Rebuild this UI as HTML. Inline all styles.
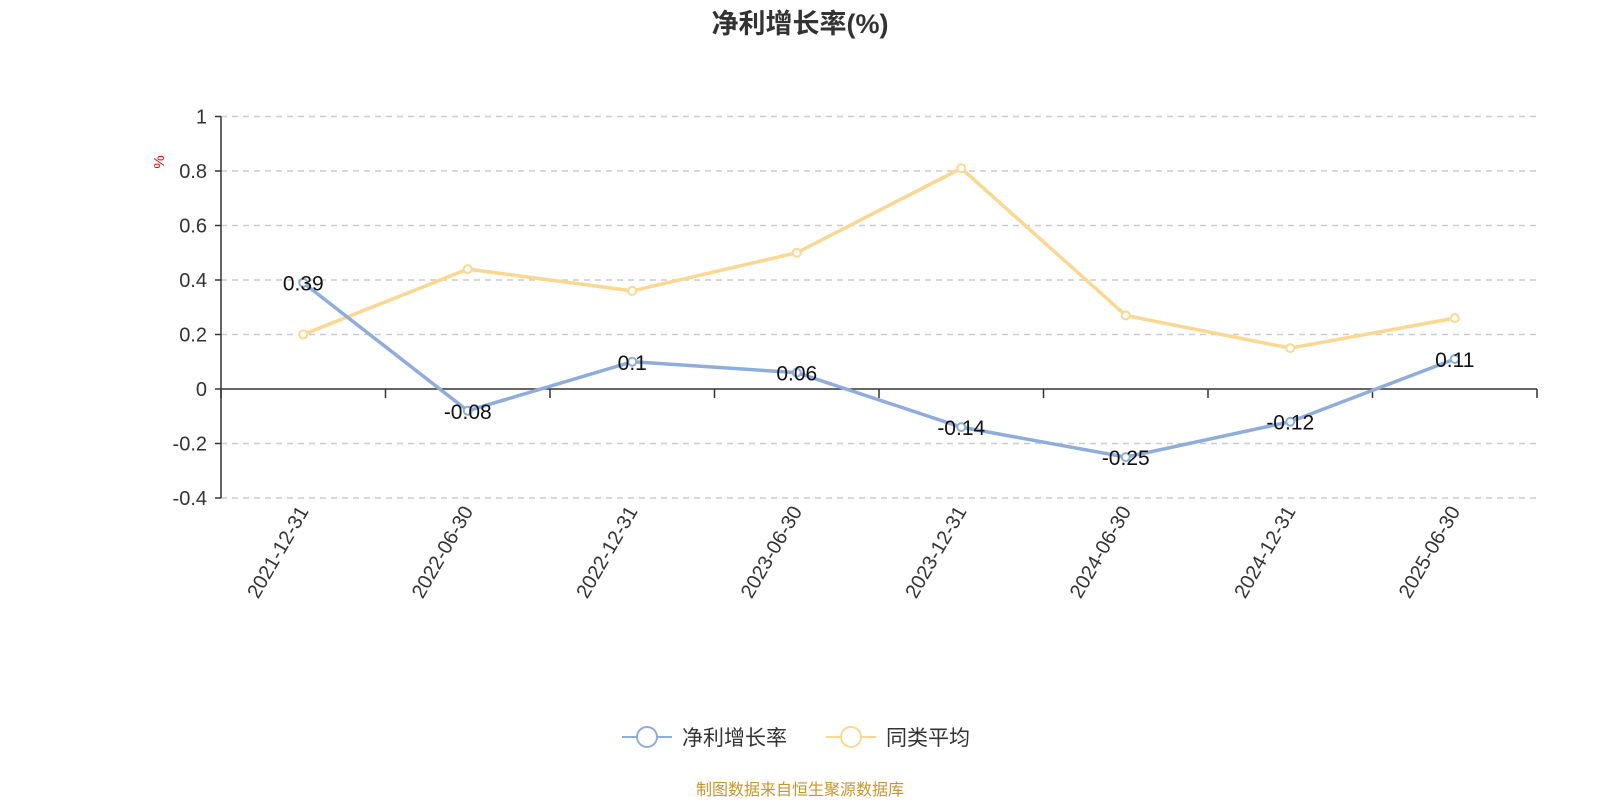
<!DOCTYPE html>
<html><head><meta charset="utf-8"><style>
body{margin:0;background:#fff;width:1600px;height:800px;overflow:hidden;font-family:"Liberation Sans","Noto Sans CJK SC",sans-serif}
</style></head><body>
<svg id="chart" width="1600" height="800" xmlns="http://www.w3.org/2000/svg" font-family="Liberation Sans, Noto Sans CJK SC, sans-serif">
<text x="800" y="33" text-anchor="middle" font-size="27" font-weight="bold" fill="#333">净利增长率(%)</text>
<text transform="translate(164,162) rotate(-90)" text-anchor="middle" font-size="15" fill="#e00">%</text>
<g id="grid"></g><g id="axes"></g><g id="series"></g>
<g>
<g><line x1="622" y1="737" x2="672" y2="737" stroke="#8eadda" stroke-width="2"/><circle cx="647" cy="737" r="10" fill="#fff" stroke="#8eadda" stroke-width="2"/><text x="682" y="745" font-size="21" fill="#333">净利增长率</text></g>
<g><line x1="826" y1="737" x2="876" y2="737" stroke="#fbd891" stroke-width="2"/><circle cx="851" cy="737" r="10" fill="#fff" stroke="#fbd891" stroke-width="2"/><text x="886" y="745" font-size="21" fill="#333">同类平均</text></g>
</g>
<text x="800" y="795" text-anchor="middle" font-size="16" fill="#c8962a">制图数据来自恒生聚源数据库</text>
</svg>
<script>
const categories=["2021-12-31","2022-06-30","2022-12-31","2023-06-30","2023-12-31","2024-06-30","2024-12-31","2025-06-30"];
const netProfitGrowth=[0.39,-0.08,0.1,0.06,-0.14,-0.25,-0.12,0.11];
const peerAverage=[0.2,0.44,0.36,0.5,0.81,0.27,0.15,0.26];
const yTicks=[1,0.8,0.6,0.4,0.2,0,-0.2,-0.4];
const yTickLabels=["1","0.8","0.6","0.4","0.2","0","-0.2","-0.4"];
const NS="http://www.w3.org/2000/svg";
const L=221,R=1537,Y0=389,PX=272.5;
const yS=v=>Y0-v*PX;
const step=(R-L)/categories.length;
const xS=i=>L+step*(i+0.5);
function mk(p,t,a){const e=document.createElementNS(NS,t);for(const k in a)e.setAttribute(k,a[k]);p.appendChild(e);return e;}
const grid=document.getElementById('grid'),axes=document.getElementById('axes'),ser=document.getElementById('series');
yTicks.forEach((v,i)=>{
 if(v!==0){const g=mk(grid,'line',{x1:L,x2:R,y1:yS(v),y2:yS(v),stroke:'#ccc','stroke-width':1.5,'stroke-dasharray':'6,5'});
 
 }
 const t=mk(axes,'text',{x:L-14,y:yS(v)+7,'text-anchor':'end','font-size':20,fill:'#333'});t.textContent=yTickLabels[i];
 
 
 mk(axes,'line',{x1:L-6,x2:L,y1:yS(v),y2:yS(v),stroke:'#333','stroke-width':1.5});
});
const ya=mk(axes,'line',{x1:L,x2:L,y1:yS(1),y2:yS(-0.4),stroke:'#333','stroke-width':1.5});


const xa=mk(axes,'line',{x1:L,x2:R,y1:Y0,y2:Y0,stroke:'#333','stroke-width':1.5});


for(let i=0;i<=categories.length;i++)mk(axes,'line',{x1:L+step*i,x2:L+step*i,y1:Y0,y2:Y0+9,stroke:'#333','stroke-width':1.5});
categories.forEach((c,i)=>{
 const t=mk(axes,'text',{transform:`translate(${xS(i)+6},${Y0+122}) rotate(-60)`,'text-anchor':'end','font-size':20,fill:'#333'});
 t.textContent=c;
 
 
});
function series(vals,color,name,labels){
 const p=mk(ser,'polyline',{points:vals.map((v,i)=>xS(i)+','+yS(v)).join(' '),fill:'none',stroke:color,'stroke-width':3.5});
 
 
 vals.forEach((v,i)=>{
  const c=mk(ser,'circle',{cx:xS(i),cy:yS(v),r:4,fill:'#fff',stroke:color,'stroke-width':2});
  
  
  if(labels){const t=mk(ser,'text',{x:xS(i),y:yS(v)+8,'text-anchor':'middle','font-size':21,fill:'#111'});t.textContent=String(v);
  
  }
 });
}
series(peerAverage,'#fbd891','peer-average',false);
series(netProfitGrowth,'#8eadda','net-profit-growth',true);
</script>
</body></html>
